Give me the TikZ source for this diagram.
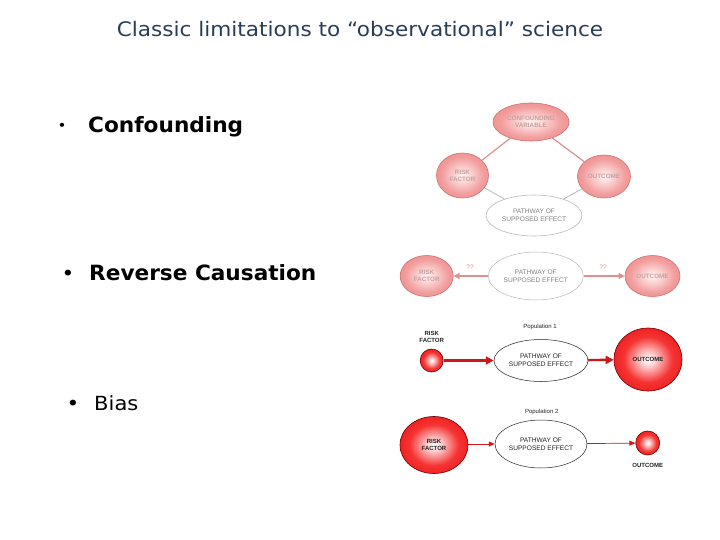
\documentclass[tikz,border=0pt]{standalone}
\usepackage{fontspec}
\setmainfont{DejaVu Sans}
\newfontfamily\verd[FakeStretch=1.08]{DejaVu Sans}
\newfontfamily\verdb[FakeStretch=1.03]{DejaVu Sans}
\newfontfamily\lab{Liberation Sans}
\usetikzlibrary{arrows.meta,shapes.geometric}
\definecolor{titlecol}{RGB}{40,62,88}
\definecolor{pkborder}{RGB}{212,112,112}
\definecolor{pktext}{RGB}{200,160,160}
\definecolor{pkline}{RGB}{222,145,145}
\definecolor{grline}{RGB}{185,185,185}
\definecolor{grtext}{RGB}{130,130,130}
\definecolor{rdborder}{RGB}{110,0,0}
\definecolor{rdline}{RGB}{205,25,25}
\definecolor{dktext}{RGB}{35,35,35}
\pgfdeclareradialshading{pinkshade}{\pgfpoint{0bp}{0bp}}{rgb(0bp)=(1,0.95,0.95); rgb(6bp)=(0.99,0.86,0.86); rgb(20bp)=(0.95,0.62,0.62); rgb(38bp)=(0.91,0.49,0.49); rgb(50bp)=(0.88,0.43,0.43); rgb(100bp)=(0.88,0.43,0.43)}
\pgfdeclareradialshading{redshade}{\pgfpoint{0bp}{0bp}}{rgb(0bp)=(1,1,1); rgb(5bp)=(1,0.82,0.82); rgb(18bp)=(0.96,0.2,0.2); rgb(38bp)=(0.9,0.03,0.03); rgb(50bp)=(0.82,0,0); rgb(100bp)=(0.82,0,0)}
\tikzset{
  pinkball/.style={ellipse, draw=pkborder, line width=0.6pt, shading=pinkshade, inner sep=0pt, align=center, text=pktext, font=\lab\bfseries\fontsize{6.3}{7.2}\selectfont},
  redball/.style={ellipse, draw=rdborder, line width=0.6pt, shading=redshade, inner sep=0pt, align=center, text=dktext, font=\lab\bfseries\fontsize{6}{7}\selectfont},
  pathgray/.style={ellipse, draw=grline, line width=0.6pt, fill=white, inner sep=0pt, align=center, text=grtext, font=\lab\fontsize{6.6}{7.6}\selectfont},
  pathdark/.style={ellipse, draw=dktext, line width=0.5pt, fill=white, inner sep=0pt, align=center, text=dktext, font=\lab\fontsize{6.6}{7.6}\selectfont},
  lbl/.style={inner sep=0pt, align=center, text=dktext, font=\lab\fontsize{6}{7}\selectfont},
  lblb/.style={inner sep=0pt, align=center, text=dktext, font=\lab\bfseries\fontsize{6}{7}\selectfont},
  pinkconn/.style={draw=pkline, line width=1.2pt},
  grayconn/.style={draw=grline, line width=0.8pt},
  pinkarrow/.style={draw=pkline, line width=1.2pt, -{Triangle[length=6pt,width=6pt]}},
  redthick/.style={draw=rdline, line width=2.4pt, -{Triangle[length=8pt,width=8pt]}},
  redthin/.style={draw=rdline, line width=0.7pt, -{Triangle[length=6pt,width=5pt]}},
  bulletmark/.style={anchor=base, inner sep=0pt}
}
\begin{document}
\begin{tikzpicture}[x=1pt,y=-1pt]
\fill[white] (0,0) rectangle (720,540);
\useasboundingbox (0,0) rectangle (720,540);
% title
\node[text=titlecol, font=\verd\fontsize{20}{24}\selectfont, inner sep=0pt] (title) at (360,29) {Classic limitations to “observational” science};
% bullets
\node[bulletmark, font=\verd\fontsize{14}{16}\selectfont] (m1) at (62,131) {•};
\node[anchor=base west, inner sep=0pt, font=\verdb\bfseries\fontsize{21}{25}\selectfont] (b1) at (88,132.5) {Confounding};
\node[bulletmark, font=\verd\fontsize{20}{24}\selectfont] (m2) at (68,280) {•};
\node[anchor=base west, inner sep=0pt, font=\verdb\bfseries\fontsize{21}{25}\selectfont] (b2) at (89,280) {Reverse Causation};
\node[bulletmark, font=\verd\fontsize{20}{24}\selectfont] (m3) at (73,410) {•};
\node[anchor=base west, inner sep=0pt, font=\verd\fontsize{19.5}{24}\selectfont] (b3) at (94,410) {Bias};
% diagram 1: confounding
\node[pinkball, minimum width=76pt, minimum height=38pt] (cv) at (531,122) {CONFOUNDING\\VARIABLE};
\node[pinkball, minimum width=52pt, minimum height=45pt] (rf1) at (462.5,175.5) {RISK\\FACTOR};
\node[pinkball, minimum width=53pt, minimum height=43pt] (oc1) at (604,176.5) {OUTCOME};
\node[pathgray, minimum width=96pt, minimum height=41pt] (pw1) at (534,215.5) {PATHWAY OF\\SUPPOSED EFFECT};
\draw[pinkconn] (cv) -- (rf1);
\draw[pinkconn] (cv) -- (oc1);
\draw[grayconn] (rf1) -- (pw1);
\draw[grayconn] (oc1) -- (pw1);
% diagram 2: reverse causation
\node[pinkball, minimum width=53pt, minimum height=41pt] (rf2) at (426.7,276) {RISK\\FACTOR};
\node[pathgray, line width=0.5pt, minimum width=95pt, minimum height=48pt] (pw2) at (535.8,276) {PATHWAY OF\\SUPPOSED EFFECT};
\node[pinkball, minimum width=55pt, minimum height=41pt] (oc2) at (652.5,276) {OUTCOME};
\draw[pinkarrow] (pw2) -- (rf2);
\draw[pinkarrow] (pw2) -- (oc2);
\node[inner sep=0pt, text=pkline, font=\lab\fontsize{6.5}{7}\selectfont] (q1) at (470,267.5) {??};
\node[inner sep=0pt, text=pkline, font=\lab\fontsize{6.5}{7}\selectfont] (q2) at (603,267.5) {??};
% diagram 3: population 1
\node[lbl] (p1) at (540,327) {Population 1};
\node[lblb] (rf3l) at (431.7,337) {RISK\\FACTOR};
\node[redball, minimum width=23pt, minimum height=23pt] (rf3) at (431.7,360.5) {};
\node[pathdark, minimum width=94pt, minimum height=42pt] (pw3) at (541,360.5) {PATHWAY OF\\SUPPOSED EFFECT};
\node[redball, minimum width=68pt, minimum height=63pt] (oc3) at (648,359.5) {OUTCOME};
\draw[redthick] (rf3) -- (pw3);
\draw[redthick] (pw3) -- (oc3);
% diagram 4: population 2
\node[lbl] (p2) at (541.7,411.7) {Population 2};
\node[redball, minimum width=68pt, minimum height=57pt] (rf4) at (434,445) {RISK\\FACTOR};
\node[pathdark, minimum width=92pt, minimum height=48pt] (pw4) at (541,444) {PATHWAY OF\\SUPPOSED EFFECT};
\node[redball, minimum width=24pt, minimum height=24pt] (oc4) at (647.7,443) {};
\node[lblb] (oc4l) at (647.7,465.7) {OUTCOME};
\draw[redthin] (rf4.east |- pw4.west) -- (pw4.west);
\draw[redthin] (pw4) -- (oc4);
\end{tikzpicture}
\end{document}
